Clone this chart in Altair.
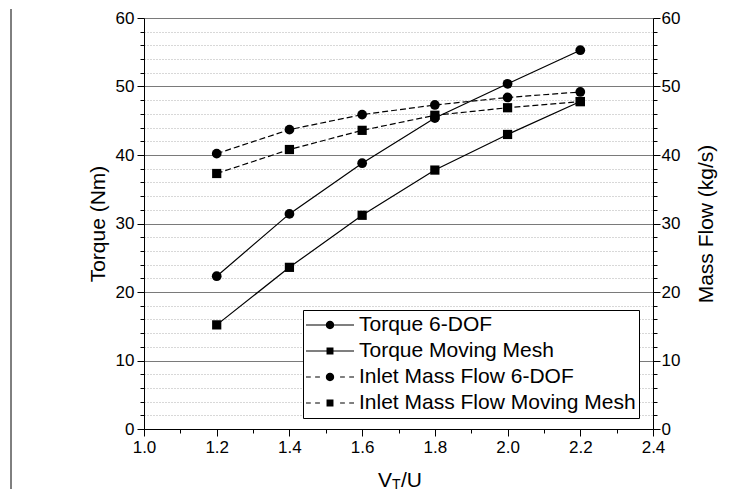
import altair as alt
import pandas as pd

# ---- data ----
x_vals = [1.2, 1.4, 1.6, 1.8, 2.0, 2.2]
torque_6dof = [22.3, 31.4, 38.8, 45.4, 50.4, 55.3]
torque_mm = [15.2, 23.6, 31.2, 37.8, 43.0, 47.8]
massflow_6dof = [40.2, 43.7, 45.9, 47.3, 48.4, 49.2]
massflow_mm = [37.3, 40.8, 43.6, 45.8, 46.9, 47.8]

series_names = ["Torque 6-DOF", "Torque Moving Mesh",
                "Inlet Mass Flow 6-DOF", "Inlet Mass Flow Moving Mesh"]
x_ticks = [1.0, 1.1, 1.2, 1.3, 1.4, 1.5, 1.6, 1.7, 1.8, 1.9, 2.0, 2.1, 2.2, 2.3, 2.4]
y_ticks = [0, 2, 4, 6, 8, 10, 12, 14, 16, 18, 20, 22, 24, 26, 28, 30,
           32, 34, 36, 38, 40, 42, 44, 46, 48, 50, 52, 54, 56, 58, 60]

rows = []
for name, vals, grp in [(series_names[0], torque_6dof, "torque"),
                        (series_names[1], torque_mm, "torque"),
                        (series_names[2], massflow_6dof, "mass"),
                        (series_names[3], massflow_mm, "mass")]:
    for xv, yv in zip(x_vals, vals):
        rows.append({"x": xv, "value": yv, "series": name, "group": grp})
df = pd.DataFrame(rows)

FONT = "Liberation Sans"


# ---- legend symbol paths (line + marker), in unit symbol space, fill only ----
def circle(r):
    k = round(0.5523 * r, 4)
    return (f"M{r},0C{r},{k} {k},{r} 0,{r}C{-k},{r} {-r},{k} {-r},0"
            f"C{-r},{-k} {-k},{-r} 0,{-r}C{k},{-r} {r},{-k} {r},0Z")


def square(s):
    return f"M{-s},{-s}H{s}V{s}H{-s}Z"


def seg(x0, x1, h=0.026):
    return f"M{x0},{-h}H{x1}V{h}H{x0}Z"


solid = seg(-1, 1)
dashed = seg(-1, -0.8) + seg(-0.62, -0.42) + seg(0.42, 0.62) + seg(0.8, 1)
legend_paths = [solid + circle(0.175), solid + square(0.145),
                dashed + circle(0.175), dashed + square(0.145)]

major_y = "datum.value % 10 === 0"
major_x = "abs(datum.value * 5 - round(datum.value * 5)) < 1e-6"

x_axis = alt.Axis(
    values=x_ticks, title=None, grid=False,
    labelExpr=f"{major_x} ? format(datum.value, '.1f') : ''",
    tickSize={"condition": {"test": major_x, "value": 7}, "value": 4},
    domainColor="black", tickColor="black", labelColor="black",
    labelFont=FONT, labelFontSize=17, labelPadding=3, labelOverlap=False,
    labelFlush=False,
)
x_enc = alt.X("x:Q", scale=alt.Scale(domain=[1.0, 2.4], nice=False, zero=False), axis=x_axis)

left_axis = alt.Axis(
    orient="left", values=y_ticks, title="Torque (Nm)",
    labelExpr=f"{major_y} ? datum.label : ''",
    tickSize={"condition": {"test": major_y, "value": 7}, "value": 4},
    grid=True,
    gridColor={"condition": {"test": major_y, "value": "#7a7a7a"}, "value": "#b0b0b0"},
    gridDash={"condition": {"test": major_y, "value": []}, "value": [1, 2]},
    gridWidth=1,
    domainColor="black", tickColor="black", labelColor="black",
    labelFont=FONT, labelFontSize=17, labelPadding=3, labelOverlap=False,
    titleFont=FONT, titleFontSize=21, titleFontWeight="normal", titleColor="black",
    titlePadding=7,
)
right_axis = alt.Axis(
    orient="right", values=y_ticks, title="Mass Flow (kg/s)",
    labelExpr=f"{major_y} ? datum.label : ''",
    tickSize={"condition": {"test": major_y, "value": 7}, "value": 4},
    grid=False,
    domainColor="black", tickColor="black", labelColor="black",
    labelFont=FONT, labelFontSize=17, labelPadding=1, labelOverlap=False,
    titleFont=FONT, titleFontSize=21, titleFontWeight="normal", titleColor="black",
    titleAngle=270, titleBaseline="top", titlePadding=16,
)
y_scale = alt.Scale(domain=[0, 60], nice=False, zero=False)
y_left = alt.Y("value:Q", scale=y_scale, axis=left_axis)
y_right = alt.Y("value:Q", scale=y_scale, axis=right_axis)

base = alt.Chart(df)


def series_layers(name, dash, shape, y_enc):
    sel = base.transform_filter(alt.datum.series == name)
    line_kw = dict(color="black", strokeWidth=1.2)
    if dash:
        line_kw["strokeDash"] = [6, 3]
    ln = sel.mark_line(**line_kw).encode(x=x_enc, y=y_enc)
    size = 95 if shape == "circle" else 85
    pt = sel.mark_point(shape=shape, filled=True, color="black", opacity=1, size=size).encode(x=x_enc, y=y_enc)
    return [ln, pt]


legend_layer = base.mark_point(filled=True, color="black", opacity=0).encode(
    x=x_enc, y=y_left,
    shape=alt.Shape("series:N",
                    scale=alt.Scale(domain=series_names, range=legend_paths),
                    legend=alt.Legend(
                        title=None, orient="none", legendX=159, legendY=292,
                        symbolSize=2304, clipHeight=24, rowPadding=2, padding=3,
                        labelOffset=5, labelFont=FONT, labelFontSize=21,
                        labelColor="black", labelLimit=500,
                        strokeColor="black", fillColor="white",
                        symbolFillColor="black", symbolStrokeWidth=0,
                        symbolOpacity=1,
                    )),
)

one = alt.Chart(pd.DataFrame({"a": [0]}))
edge_line = one.mark_rule(color="black", strokeWidth=1).encode(
    x=alt.value(-133), y=alt.value(-9), y2=alt.value(471))
title_v = one.mark_text(text="V", align="right", baseline="alphabetic", font=FONT,
                        fontSize=21, color="black").encode(x=alt.value(248), y=alt.value(469))
title_t = one.mark_text(text="T", align="left", baseline="alphabetic", font=FONT,
                        fontSize=14, color="black").encode(x=alt.value(248), y=alt.value(471))
title_u = one.mark_text(text="/U", align="left", baseline="alphabetic", font=FONT,
                        fontSize=21, color="black").encode(x=alt.value(257), y=alt.value(469))

torque_group = alt.layer(
    *series_layers(series_names[0], False, "circle", y_left),
    *series_layers(series_names[1], False, "square", y_left),
    legend_layer, edge_line, title_v, title_t, title_u,
)
mass_group = alt.layer(
    *series_layers(series_names[2], True, "circle", y_right),
    *series_layers(series_names[3], True, "square", y_right),
)

chart = alt.layer(torque_group, mass_group).resolve_scale(y="independent").properties(
    width=509, height=411,
    padding={"left": 2, "top": 0, "right": 5, "bottom": 0},
).configure_view(stroke=None).configure(background="white")

chart.save("out.html", embed_options={"renderer": "svg", "actions": False})
